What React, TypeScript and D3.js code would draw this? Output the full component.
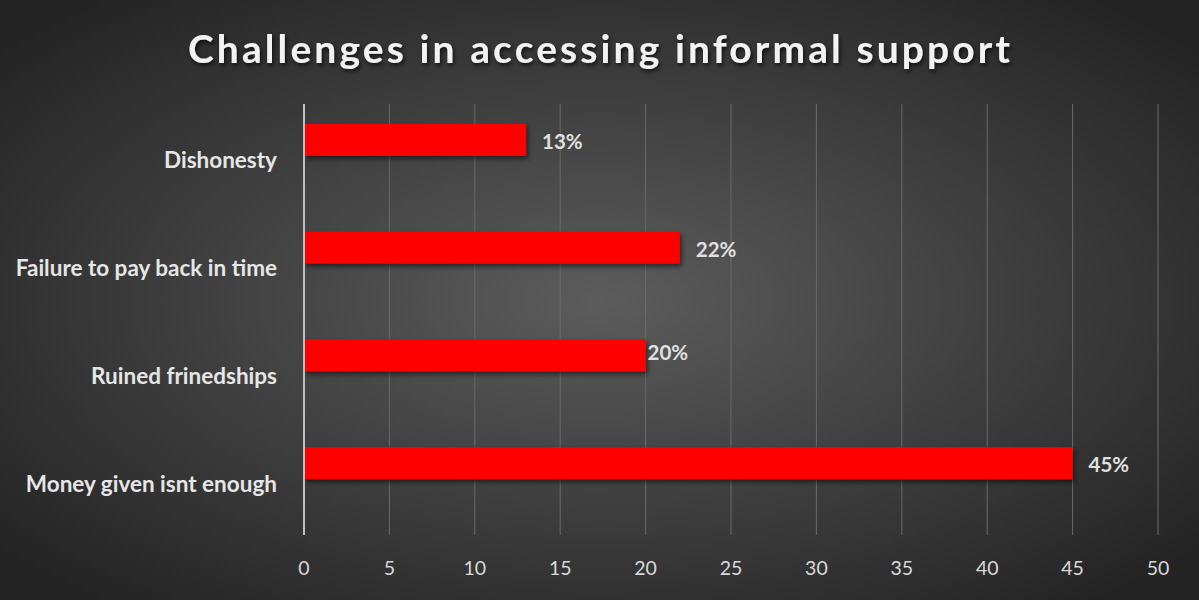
import React from "react";
import * as d3 from "d3";

const categories = ["Dishonesty", "Failure to pay back in time", "Ruined frinedships", "Money given isnt enough"];
const values = [13, 22, 20, 45];
const valueLabels = ["13%", "22%", "20%", "45%"];
const xTicks = [0, 5, 10, 15, 20, 25, 30, 35, 40, 45, 50];
const title = "Challenges in accessing informal support";

const W = 1199;
const H = 600;
const M = { left: 304, right: 41, top: 104, bottom: 65 };

export default function App() {
  const x = d3.scaleLinear().domain([0, 50]).range([M.left, W - M.right]);
  const y = d3.scaleBand<string>().domain(categories).range([M.top, H - M.bottom]).paddingInner(0).paddingOuter(0);
  const bw = y.bandwidth();
  const barH = bw * 0.296;
  const barOff = bw * 0.185;
  const font = "Lato, 'Open Sans', sans-serif";
  return (
    <svg width={W} height={H} style={{ position: "absolute", left: 0, top: 0, display: "block" }}>
      <defs>
        <radialGradient id="bg" cx="50%" cy="50%" r="65%" fx="50%" fy="50%">
          <stop offset="0%" stopColor="#5c5c5c" />
          <stop offset="100%" stopColor="#242424" />
        </radialGradient>
        <filter id="shadow" x="-5%" y="-30%" width="115%" height="180%">
          <feDropShadow dx="2" dy="3" stdDeviation="2.5" floodColor="#000" floodOpacity="0.55" />
        </filter>
        <filter id="tshadow" x="-5%" y="-30%" width="110%" height="180%">
          <feDropShadow dx="1.5" dy="2.5" stdDeviation="2" floodColor="#000" floodOpacity="0.7" />
        </filter>
      </defs>
      <rect x={0} y={0} width={W} height={H} fill="url(#bg)" />
      <text x={W / 2 + 1} y={63} textAnchor="middle" fill="#f2f2f2" fontFamily={font} fontWeight={700}
        fontSize={39} letterSpacing={3.1} filter="url(#tshadow)">{title}</text>
      {xTicks.slice(1).map((t) => (
        <line key={t} x1={x(t)} x2={x(t)} y1={M.top} y2={H - M.bottom} stroke="#6a6a6a" strokeWidth={1} />
      ))}
      {categories.map((c, i) => (
        <rect key={c} x={x(0)} y={(y(c) as number) + barOff} width={x(values[i]) - x(0)} height={barH}
          fill="#ff0000" filter="url(#shadow)" />
      ))}
      <line x1={x(0)} x2={x(0)} y1={M.top} y2={H - M.bottom} stroke="#bfbfbf" strokeWidth={2} />
      {categories.map((c, i) => {
        const moved = i === 2;
        return (
          <text key={c} x={x(values[i]) + (moved ? 2 : 16)} y={(y(c) as number) + barOff + barH / 2 + (moved ? -3 : 1)}
            dominantBaseline="central" fill="#e0e0e0" fontFamily={font} fontWeight={700} fontSize={20.5}>{valueLabels[i]}</text>
        );
      })}
      {categories.map((c) => (
        <text key={c} x={x(0) - 27} y={(y(c) as number) + bw / 2 + 2} dominantBaseline="central" textAnchor="end"
          fill="#e6e6e6" fontFamily={font} fontWeight={700} fontSize={22.5}>{c}</text>
      ))}
      {xTicks.map((t) => (
        <text key={t} x={x(t)} y={567} dominantBaseline="central" textAnchor="middle"
          fill="#d9d9d9" fontFamily={font} fontSize={19.5}>{t}</text>
      ))}
    </svg>
  );
}
